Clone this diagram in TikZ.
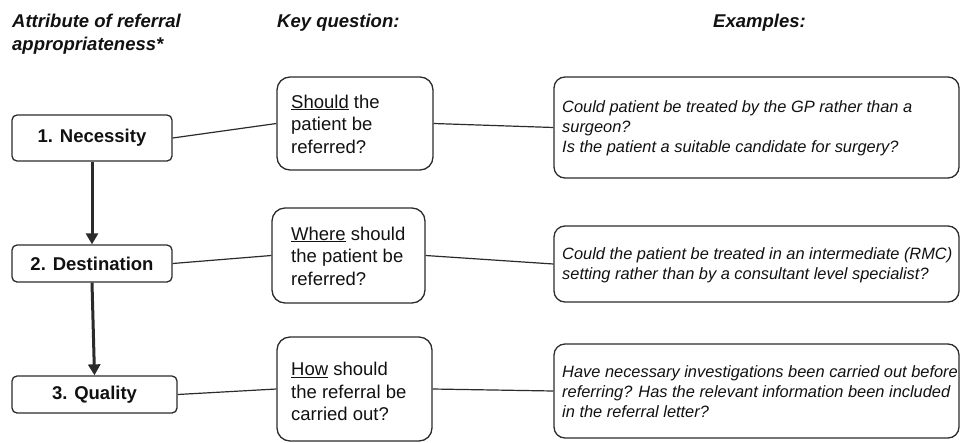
\documentclass[tikz,border=0pt]{standalone}
\usepackage{fontspec}
\setmainfont{Liberation Sans}
\usetikzlibrary{arrows.meta}
\definecolor{ln}{HTML}{2B2B2B}
\definecolor{tx}{HTML}{111111}
\tikzset{
  attrbox/.style={draw=ln, line width=1.3pt, rounded corners=5pt, inner sep=0pt,
    font=\fontsize{18.5}{22}\selectfont\bfseries, text=tx},
  qbox/.style={draw=ln, line width=1.3pt, rounded corners=13pt, inner sep=0pt},
  exbox/.style={draw=ln, line width=1.3pt, rounded corners=11pt, inner sep=0pt},
  qtext/.style={anchor=west, align=left, inner sep=0pt, text=tx,
    font=\fontsize{18.5}{22.5}\selectfont},
  extext/.style={anchor=west, align=left, inner sep=0pt, text=tx,
    font=\fontsize{16.4}{20}\selectfont\itshape},
  head/.style={anchor=north west, align=left, inner sep=0pt, text=tx,
    font=\fontsize{18.5}{22.5}\selectfont\bfseries\itshape},
  conn/.style={draw=ln, line width=1.2pt},
  flow/.style={draw=ln, line width=3pt, -{Triangle[length=11pt,width=12pt]}}
}
\begin{document}
\begin{tikzpicture}[x=1pt,y=-1pt]
\useasboundingbox (0,0) rectangle (960,442);
% headers
\node[head] (h1) at (12,14) {Attribute of referral\\appropriateness*};
\node[head] (h2) at (277,14) {Key question:};
\node[head] (h3) at (713,14) {Examples:};
% attribute boxes
\node[attrbox, minimum width=160, minimum height=46] (nec) at (92,138) {1. Necessity};
\node[attrbox, minimum width=160, minimum height=37] (dest) at (92,263.5) {2. Destination};
\node[attrbox, minimum width=165, minimum height=37] (qual) at (94.5,394.5) {3. Quality};
% question boxes
\node[qbox, minimum width=156, minimum height=93] (q1) at (355,123.5) {};
\node[qbox, minimum width=153, minimum height=95] (q2) at (348.5,255.5) {};
\node[qbox, minimum width=155, minimum height=104] (q3) at (354.5,389) {};
\node[qtext] (q1t) at (291,124) {\underline{Should} the\\patient be\\referred?};
\node[qtext] (q2t) at (291,256) {\underline{Where} should\\the patient be\\referred?};
\node[qtext] (q3t) at (291,391.5) {\underline{How} should\\the referral be\\carried out?};
% example boxes
\node[exbox, minimum width=405, minimum height=101] (e1) at (756.5,127.5) {};
\node[exbox, minimum width=405, minimum height=76] (e2) at (756.5,264) {};
\node[exbox, minimum width=405, minimum height=94] (e3) at (756.5,391) {};
\node[extext] (e1t) at (562,128) {Could patient be treated by the GP rather than a\\surgeon?\\Is the patient a suitable candidate for surgery?};
\node[extext] (e2t) at (562,265) {Could the patient be treated in an intermediate (RMC)\\setting rather than by a consultant level specialist?};
\node[extext] (e3t) at (562,392) {Have necessary investigations been carried out before\\referring? Has the relevant information been included\\in the referral letter?};
% connectors
\draw[conn] (nec.east) -- (q1.west);
\draw[conn] (q1.east) -- (e1.west);
\draw[conn] (dest.east) -- (q2.west);
\draw[conn] (q2.east) -- (e2.west);
\draw[conn] (qual.east) -- (q3.west);
\draw[conn] (q3.east) -- (e3.west);
\draw[flow] (nec.south) -- (dest.north);
\draw[flow] (dest.south) -- (qual.north);
\end{tikzpicture}
\end{document}
